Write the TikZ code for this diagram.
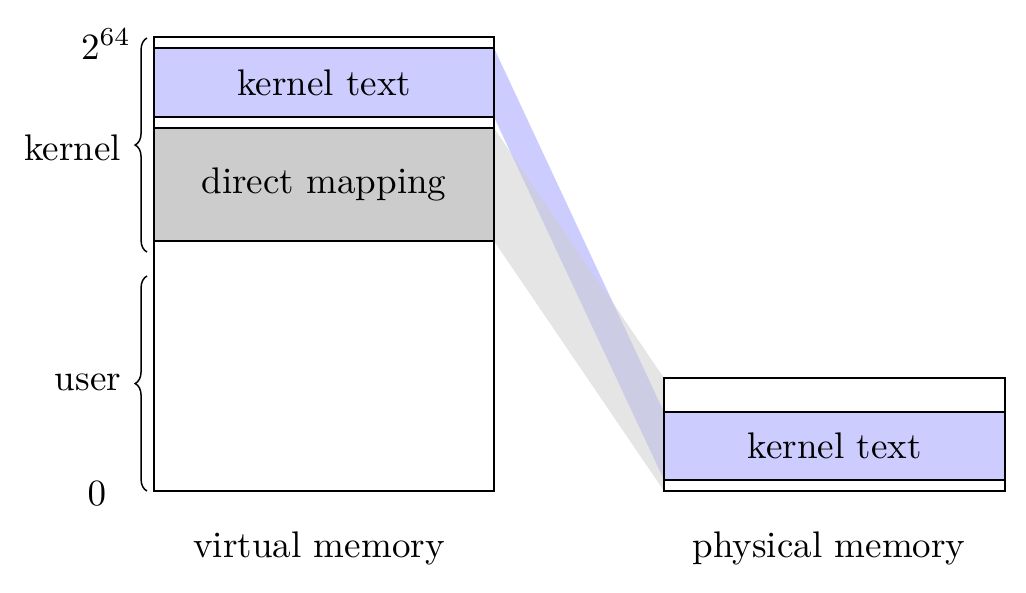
\documentclass[tikz,border=0pt]{standalone}
\usetikzlibrary{decorations.pathreplacing}
\begin{document}
\begin{tikzpicture}[x=0.27pt,y=-0.27pt,
  box/.style={draw, line width=0.45pt, inner sep=0pt, outer sep=0pt},
  ktext/.style={box, fill=blue!20},
  dmap/.style={box, fill=black!20},
  lbl/.style={inner sep=0pt, outer sep=0pt},
  brc/.style={decorate, decoration={brace, amplitude=3.2pt}, line width=0.4pt}]
\useasboundingbox (0,0) rectangle (1026,592);
% boxes (named nodes)
\node[box, minimum width=91.8pt, minimum height=122.58pt] (vm) at (324,264) {};
\node[box, minimum width=92.07pt, minimum height=30.51pt] (pm) at (834.5,434.5) {};
\node[ktext, minimum width=91.8pt, minimum height=18.63pt] (vkt) at (324,82.5) {};
\node[dmap, minimum width=91.8pt, minimum height=30.51pt] (vdm) at (324,184.5) {};
\node[ktext, minimum width=92.07pt, minimum height=18.36pt] (pkt) at (834.5,446) {};
% bands
\fill[blue!20] (vkt.north east) -- (pkt.north west) -- (pkt.south west) -- (vkt.south east) -- cycle;
\fill[black!20, opacity=0.5] (vdm.north east) -- (pm.north west) -- (pm.south west) -- (vdm.south east) -- cycle;
% redraw boxes on top
\node[box, minimum width=91.8pt, minimum height=122.58pt] at (vm) {};
\node[box, minimum width=92.07pt, minimum height=30.51pt] at (pm) {};
\node[ktext, minimum width=91.8pt, minimum height=18.63pt] at (vkt) {kernel text};
\node[dmap, minimum width=91.8pt, minimum height=30.51pt] at (vdm) {direct mapping};
\node[ktext, minimum width=92.07pt, minimum height=18.36pt] at (pkt) {kernel text};
% braces
\coordinate (kb1) at (147,252);
\coordinate (kb2) at (147,38);
\coordinate (ub1) at (147,491);
\coordinate (ub2) at (147,276);
\draw[brc] (kb1) -- (kb2);
\draw[brc] (ub1) -- (ub2);
% labels
\node[lbl, anchor=east] (lk) at (121,148) {kernel};
\node[lbl, anchor=east] (lu) at (121,382) {user};
\node[lbl, anchor=east] (ltop) at (131,44) {$2^{64}$};
\node[lbl] (lzero) at (97,494) {$0$};
\node[lbl] (lvm) at (319,548) {virtual memory};
\node[lbl] (lpm) at (829,548) {physical memory};
\end{tikzpicture}
\end{document}
